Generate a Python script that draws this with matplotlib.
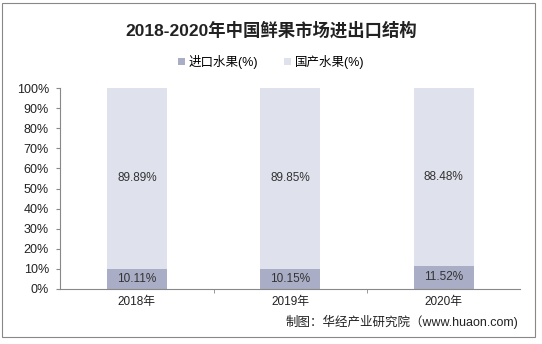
import matplotlib.pyplot as plt
from matplotlib.patches import Rectangle

plt.rcParams['font.family'] = ['Liberation Sans', 'Noto Sans CJK SC', 'DejaVu Sans']

years = ["2018年", "2019年", "2020年"]
imported = [10.11, 10.15, 11.52]
domestic = [89.89, 89.85, 88.48]
yticks = [0, 10, 20, 30, 40, 50, 60, 70, 80, 90, 100]

c_imp = "#A9AEC6"
c_dom = "#DFE2EC"

fig = plt.figure(figsize=(5.42, 3.44), dpi=100)
ax = fig.add_axes([0.111, 0.160, 0.849, 0.584])

x = range(len(years))
ax.bar(x, imported, width=0.39, color=c_imp, label="进口水果(%)")
ax.bar(x, domestic, width=0.39, bottom=imported, color=c_dom, label="国产水果(%)")

for i in x:
    ax.text(i, imported[i] / 2, f"{imported[i]:.2f}%", ha="center", va="center",
            fontsize=8.5, color="#333333")
    ax.text(i, imported[i] + domestic[i] / 2, f"{domestic[i]:.2f}%", ha="center",
            va="center", fontsize=8.5, color="#333333")

ax.set_xlim(-0.5, 2.5)
ax.set_ylim(0, 100)
ax.set_yticks(yticks)
ax.set_yticklabels([f"{v}%" for v in yticks], fontsize=9, color="#222222")
ax.set_xticks(list(x))
ax.set_xticklabels(years, fontsize=8.5, color="#222222")
ax.set_xticks([0.5, 1.5], minor=True)
ax.tick_params(axis="x", which="major", length=0, pad=5)
ax.tick_params(axis="x", which="minor", length=3, color="#888888")
ax.tick_params(axis="y", length=3, color="#888888", pad=5)
for s in ["top", "right"]:
    ax.spines[s].set_visible(False)
for s in ["left", "bottom"]:
    ax.spines[s].set_color("#888888")
    ax.spines[s].set_linewidth(0.8)

fig.text(0.5, 0.912, "2018-2020年中国鲜果市场进出口结构", ha="center", va="center",
         fontsize=12.5, fontweight="bold", color="#222222")
fig.legend(loc="center", bbox_to_anchor=(0.5, 0.82), ncol=2, frameon=False,
           fontsize=9, handlelength=0.6, handleheight=0.6, columnspacing=2.0,
           handletextpad=0.3)
fig.text(0.957, 0.064, "制图：华经产业研究院（www.huaon.com)", ha="right", va="center",
         fontsize=9, color="#222222")

fig.add_artist(Rectangle((0.004, 0.02), 0.984, 0.972, transform=fig.transFigure,
                         fill=False, edgecolor="#888888", linewidth=0.8))

fig.savefig("out.png", dpi=100)
